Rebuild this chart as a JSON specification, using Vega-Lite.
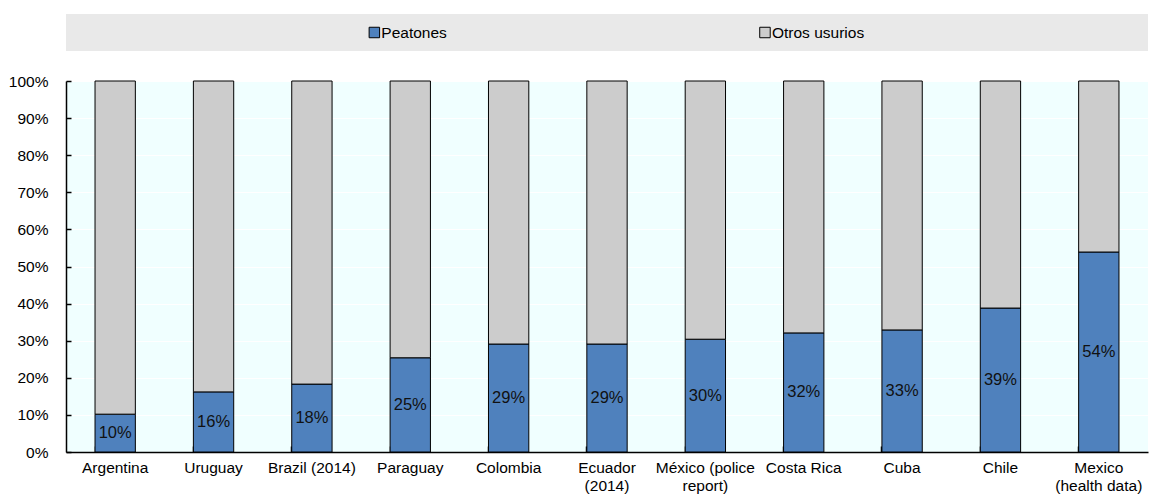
{
  "$schema": "https://vega.github.io/schema/vega-lite/v6.json",
  "padding": {"top": 14, "left": 8, "right": 2, "bottom": 0},
  "spacing": 30,
  "bounds": "flush",
  "config": {
    "font": "Liberation Sans",
    "view": {"stroke": null},
    "axis": {"labelFont": "Liberation Sans", "labelFontSize": 15.5, "labelColor": "#000", "titleFont": "Liberation Sans"},
    "axisY": {
      "values": [0, 0.1, 0.2, 0.3, 0.4, 0.5, 0.6, 0.7, 0.8, 0.9, 1],
      "format": ".0%", "grid": true, "gridColor": "#ffffff", "gridWidth": 1, "labelOverlap": false,
      "domainColor": "#000", "domainWidth": 1.5, "tickColor": "#000", "tickSize": -5, "tickWidth": 1.5,
      "labelPadding": 23
    }
  },
  "datasets": {
    "shares": [
      {"country": "Argentina", "Peatones": 0.102, "Otros usurios": 0.898},
      {"country": "Uruguay", "Peatones": 0.162, "Otros usurios": 0.838},
      {"country": "Brazil (2014)", "Peatones": 0.183, "Otros usurios": 0.817},
      {"country": "Paraguay", "Peatones": 0.254, "Otros usurios": 0.746},
      {"country": "Colombia", "Peatones": 0.291, "Otros usurios": 0.709},
      {"country": "Ecuador (2014)", "Peatones": 0.291, "Otros usurios": 0.709},
      {"country": "México (police report)", "Peatones": 0.304, "Otros usurios": 0.696},
      {"country": "Costa Rica", "Peatones": 0.321, "Otros usurios": 0.679},
      {"country": "Cuba", "Peatones": 0.329, "Otros usurios": 0.671},
      {"country": "Chile", "Peatones": 0.388, "Otros usurios": 0.612},
      {"country": "Mexico (health data)", "Peatones": 0.539, "Otros usurios": 0.461}
    ],
    "legendItems": [
      {"name": "Peatones"},
      {"name": "Otros usurios"}
    ]
  },
  "vconcat": [
    {
      "width": 1082,
      "height": 37,
      "view": {"fill": "#e9e9e9", "stroke": null},
      "data": {"name": "legendItems"},
      "layer": [
        {
          "mark": {"type": "square", "size": 110, "stroke": "#000", "strokeWidth": 1, "opacity": 1},
          "encoding": {
            "x": {"field": "name", "type": "nominal", "sort": null, "axis": null,
                  "scale": {"type": "point", "padding": 0.885, "align": 0.446}},
            "fill": {"field": "name", "type": "nominal", "legend": null,
                     "scale": {"domain": ["Peatones", "Otros usurios"], "range": ["#4f81bd", "#cccccc"]}}
          }
        },
        {
          "mark": {"type": "text", "align": "left", "baseline": "middle", "dx": 7, "fontSize": 15.5, "font": "Liberation Sans", "color": "#000"},
          "encoding": {
            "x": {"field": "name", "type": "nominal", "sort": null, "axis": null,
                  "scale": {"type": "point", "padding": 0.885, "align": 0.446}},
            "text": {"field": "name"}
          }
        }
      ]
    },
    {
      "width": 1082,
      "height": 371,
      "view": {"fill": "#f0ffff", "stroke": null},
      "data": {"name": "shares"},
      "encoding": {
        "x": {
          "field": "country", "type": "nominal", "sort": null, "title": null,
          "scale": {"paddingInner": 0.59, "paddingOuter": 0.295},
          "axis": {
            "labelAngle": 0, "bandPosition": 0, "grid": true, "gridColor": "#ffffff", "gridWidth": 1,
            "domainColor": "#000", "domainWidth": 1.5, "tickColor": "#000", "tickSize": -6, "tickWidth": 1.5,
            "labelPadding": 14, "labelLineHeight": 18, "labelBaseline": "top", "labelAlign": "center", "labelFlush": false, "labelOverlap": false,
            "labelExpr": "datum.label == 'Ecuador (2014)' ? ['Ecuador', '(2014)'] : datum.label == 'México (police report)' ? ['México (police', 'report)'] : datum.label == 'Mexico (health data)' ? ['Mexico', '(health data)'] : datum.label"
          }
        }
      },
      "layer": [
        {
          "transform": [{"fold": ["Peatones", "Otros usurios"], "as": ["group", "value"]}],
          "mark": {"type": "bar", "stroke": "#000", "strokeWidth": 1},
          "encoding": {
            "y": {
              "field": "value", "type": "quantitative", "stack": "zero", "title": null,
              "scale": {"domain": [0, 1], "nice": false}
            },
            "color": {"field": "group", "type": "nominal", "legend": null,
                      "scale": {"domain": ["Peatones", "Otros usurios"], "range": ["#4f81bd", "#cccccc"]}},
            "order": {"field": "group", "sort": "descending"}
          }
        },
        {
          "transform": [{"calculate": "datum.Peatones / 2", "as": "mid"}],
          "mark": {"type": "text", "fontSize": 16.5, "font": "Liberation Sans", "color": "#111", "baseline": "middle"},
          "encoding": {
            "y": {"field": "mid", "type": "quantitative", "title": null},
            "text": {"field": "Peatones", "type": "quantitative", "format": ".0%"}
          }
        }
      ]
    }
  ]
}
